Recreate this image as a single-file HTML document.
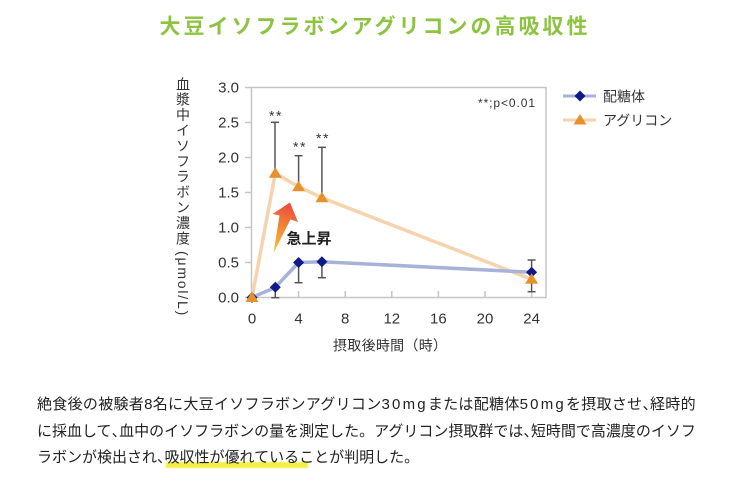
<!DOCTYPE html>
<html lang="ja">
<head>
<meta charset="utf-8">
<style>
  html,body{margin:0;padding:0;background:#fff;}
  body{width:750px;height:486px;position:relative;overflow:hidden;
       font-family:"Liberation Sans","Noto Sans CJK JP",sans-serif;color:#222;}
  svg{position:absolute;left:0;top:0;}
  .ytitle{position:absolute;left:173px;top:77px;width:20px;height:240px;
          writing-mode:vertical-rl;text-orientation:mixed;font-size:14px;line-height:20px;
          letter-spacing:1.4px;color:#333;white-space:nowrap;}
  .ytitle .u{padding-top:5px;letter-spacing:1.8px;}
  .hl{position:absolute;left:166px;top:462px;width:142px;height:6px;
      background:#f3ee30;filter:blur(0.6px);opacity:0.9;}
  .line{position:absolute;left:37px;font-size:15px;line-height:26.5px;height:26.5px;
        white-space:nowrap;color:#222;}
  .c{letter-spacing:-7.5px;}
  .n{letter-spacing:2.2px;}
</style>
</head>
<body>

<div class="hl"></div>

<svg width="750" height="486" viewBox="0 0 750 486" xmlns="http://www.w3.org/2000/svg">
  <defs>
    <linearGradient id="ag" gradientUnits="userSpaceOnUse" x1="274" y1="252" x2="292" y2="203">
      <stop offset="0" stop-color="#f8c72e"/>
      <stop offset="1" stop-color="#e9483c"/>
    </linearGradient>
  </defs>

  <!-- title -->
  <text x="159.5" y="33.5" font-family="Liberation Sans, Noto Sans CJK JP, sans-serif" font-size="21" font-weight="bold" letter-spacing="3" fill="#8cc43f">大豆イソフラボンアグリコンの高吸収性</text>

  <!-- frame -->
  <rect x="251.5" y="87.5" width="294.5" height="210" fill="none" stroke="#c6c6c6" stroke-width="1.5"/>

  <!-- y ticks -->
  <g stroke="#c6c6c6" stroke-width="1.5">
    <line x1="245" y1="87.5" x2="251.5" y2="87.5"/>
    <line x1="245" y1="122.5" x2="251.5" y2="122.5"/>
    <line x1="245" y1="157.5" x2="251.5" y2="157.5"/>
    <line x1="245" y1="192.5" x2="251.5" y2="192.5"/>
    <line x1="245" y1="227.5" x2="251.5" y2="227.5"/>
    <line x1="245" y1="262.5" x2="251.5" y2="262.5"/>
    <line x1="245" y1="297.5" x2="251.5" y2="297.5"/>
    <!-- x ticks -->
    <line x1="298.6" y1="297.5" x2="298.6" y2="291"/>
    <line x1="345.2" y1="297.5" x2="345.2" y2="291"/>
    <line x1="391.8" y1="297.5" x2="391.8" y2="291"/>
    <line x1="438.4" y1="297.5" x2="438.4" y2="291"/>
    <line x1="485" y1="297.5" x2="485" y2="291"/>
    <line x1="531.6" y1="297.5" x2="531.6" y2="291"/>
  </g>

  <!-- y tick labels -->
  <g font-family="Liberation Sans, sans-serif" font-size="15" fill="#333" text-anchor="end">
    <text x="239" y="92.6">3.0</text>
    <text x="239" y="127.6">2.5</text>
    <text x="239" y="162.6">2.0</text>
    <text x="239" y="197.6">1.5</text>
    <text x="239" y="232.6">1.0</text>
    <text x="239" y="267.6">0.5</text>
    <text x="239" y="302.6">0.0</text>
  </g>

  <!-- x tick labels -->
  <g font-family="Liberation Sans, sans-serif" font-size="15" fill="#333" text-anchor="middle">
    <text x="252" y="323.4">0</text>
    <text x="298.6" y="323.4">4</text>
    <text x="345.2" y="323.4">8</text>
    <text x="391.8" y="323.4">12</text>
    <text x="438.4" y="323.4">16</text>
    <text x="485" y="323.4">20</text>
    <text x="531.6" y="323.4">24</text>
  </g>

  <!-- x axis title -->
  <text x="390" y="350.3" text-anchor="middle" font-family="Liberation Sans, Noto Sans CJK JP, sans-serif" font-size="14" fill="#333" textLength="114" lengthAdjust="spacing">摂取後時間（時）</text>

  <!-- series lines -->
  <polyline points="252,297.5 275.3,173.3 298.6,186.7 321.9,197.7 531.6,279.3" fill="none" stroke="#f5d3ad" stroke-width="3.5" stroke-linejoin="round"/>
  <polyline points="252,297.5 275.3,287.3 298.6,262.5 321.9,261.7 531.6,272.3" fill="none" stroke="#a7b2d8" stroke-width="3.5" stroke-linejoin="round"/>

  <!-- error bars -->
  <g stroke="#555" stroke-width="1.5" fill="none">
    <line x1="275" y1="122.3" x2="275" y2="173"/>
    <line x1="271" y1="122.3" x2="279" y2="122.3"/>
    <line x1="298.6" y1="155.7" x2="298.6" y2="186"/>
    <line x1="294.6" y1="155.7" x2="302.6" y2="155.7"/>
    <line x1="321.9" y1="147.3" x2="321.9" y2="197"/>
    <line x1="317.9" y1="147.3" x2="325.9" y2="147.3"/>

    <line x1="275.3" y1="287" x2="275.3" y2="297.7"/>
    <line x1="271.3" y1="297.7" x2="279.3" y2="297.7"/>
    <line x1="298.6" y1="262" x2="298.6" y2="282.7"/>
    <line x1="294.6" y1="282.7" x2="302.6" y2="282.7"/>
    <line x1="321.9" y1="262" x2="321.9" y2="277.7"/>
    <line x1="317.9" y1="277.7" x2="325.9" y2="277.7"/>

    <line x1="531.6" y1="260" x2="531.6" y2="291.7"/>
    <line x1="527.6" y1="260" x2="535.6" y2="260"/>
    <line x1="527.6" y1="291.7" x2="535.6" y2="291.7"/>
  </g>

  <!-- diamonds -->
  <g fill="#0e1a8a">
    <polygon points="252,292 257.5,297.5 252,303 246.5,297.5"/>
    <polygon points="275.3,281.8 280.8,287.3 275.3,292.8 269.8,287.3"/>
    <polygon points="298.6,257 304.1,262.5 298.6,268 293.1,262.5"/>
    <polygon points="321.9,256.2 327.4,261.7 321.9,267.2 316.4,261.7"/>
    <polygon points="531.6,266.8 537.1,272.3 531.6,277.8 526.1,272.3"/>
  </g>

  <!-- triangles -->
  <g fill="#e8912b">
    <polygon points="252,291.5 258.5,302 245.5,302"/>
    <polygon points="275.3,167.3 281.8,177.8 268.8,177.8"/>
    <polygon points="298.6,180.7 305.1,191.2 292.1,191.2"/>
    <polygon points="321.9,191.7 328.4,202.2 315.4,202.2"/>
    <polygon points="531.6,273.3 538.1,283.8 525.1,283.8"/>
  </g>

  <!-- significance marks -->
  <g font-family="Liberation Sans, sans-serif" font-size="14" fill="#333" text-anchor="middle" letter-spacing="1.5">
    <text x="276" y="120.5">**</text>
    <text x="300" y="151.5">**</text>
    <text x="323" y="143">**</text>
  </g>
  <text x="478" y="107" font-family="Liberation Sans, sans-serif" font-size="12" fill="#333" textLength="57" lengthAdjust="spacing">**;p&lt;0.01</text>

  <!-- arrow -->
  <polygon points="290,202.5 298,222 290.5,219.5 273.5,253 279.5,215.5 272.5,214" fill="url(#ag)"/>
  <text x="286.5" y="243.7" font-family="Liberation Sans, Noto Sans CJK JP, sans-serif" font-size="15" font-weight="bold" fill="#222">急上昇</text>

  <!-- legend -->
  <line x1="563" y1="96" x2="596" y2="96" stroke="#a7b2d8" stroke-width="3"/>
  <polygon points="580,90.5 585.5,96 580,101.5 574.5,96" fill="#0e1a8a"/>
  <text x="603" y="101.3" font-family="Liberation Sans, Noto Sans CJK JP, sans-serif" font-size="14" fill="#333">配糖体</text>

  <line x1="563" y1="120" x2="596" y2="120" stroke="#f5d3ad" stroke-width="3"/>
  <polygon points="580,114 586.5,124.5 573.5,124.5" fill="#e8912b"/>
  <text x="603" y="125.3" font-family="Liberation Sans, Noto Sans CJK JP, sans-serif" font-size="14" fill="#333">アグリコン</text>
</svg>

<div class="ytitle">血漿中イソフラボン濃度<span class="u">(μmol/L)</span></div>

<div class="line" style="top:392.3px;letter-spacing:0.3px;">絶食後の被験者8名に大豆イソフラボンアグリコン<span class="n">30mg</span>または配糖体<span class="n">50mg</span>を摂取させ<span class="c">、</span>経時的</div>
<div class="line" style="top:418.8px;">に採血して<span class="c">、</span>血中のイソフラボンの量を測定した。アグリコン摂取群では<span class="c">、</span>短時間で高濃度のイソフ</div>
<div class="line" style="top:445.3px;">ラボンが検出され<span class="c">、</span>吸収性が優れていることが判明した。</div>

</body>
</html>
